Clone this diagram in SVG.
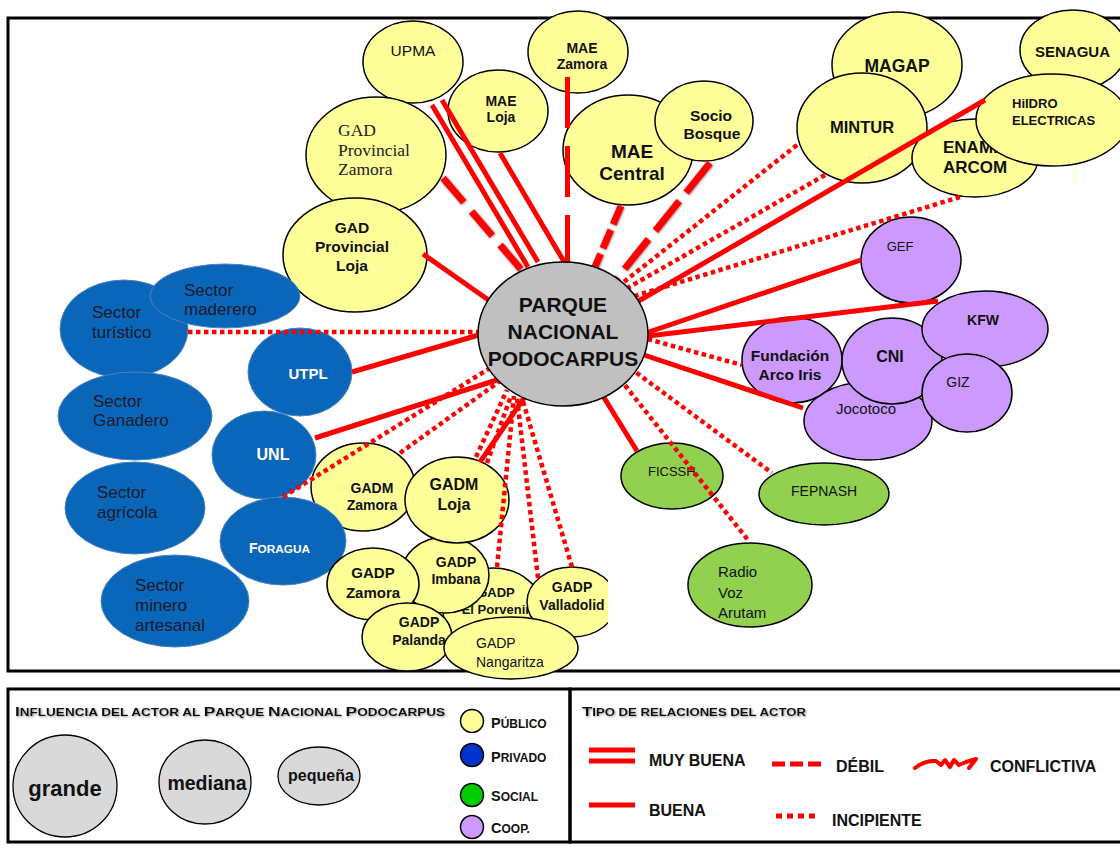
<svg xmlns="http://www.w3.org/2000/svg" width="1120" height="849" viewBox="0 0 1120 849">
<defs>
<filter id="sh" filterUnits="userSpaceOnUse" x="0" y="0" width="1120" height="849"><feDropShadow dx="0.5" dy="0.5" stdDeviation="1.2" flood-color="#555" flood-opacity="0.8"/></filter>
<filter id="tsh" filterUnits="userSpaceOnUse" x="0" y="0" width="1120" height="849"><feDropShadow dx="1" dy="1" stdDeviation="0.8" flood-color="#777" flood-opacity="0.8"/></filter>
</defs>
<style>
.pub{fill:#ffff99;stroke:#000;stroke-width:1.5}
.priv{fill:#0a66b8;stroke:#4a83c6;stroke-width:1}
.soc{fill:#92d050;stroke:#000;stroke-width:1.5}
.coop{fill:#cc99ff;stroke:#000;stroke-width:1.5}
.park{fill:#c0c0c0;stroke:#000;stroke-width:1.5}
.size{fill:#d9d9d9;stroke:#000;stroke-width:1.3}
text{font-family:"Liberation Sans",Arial,sans-serif;fill:#111}
.b{font-weight:bold}
.m{text-anchor:middle}
.w{fill:#fff}
.dk{fill:#1a1a2a}
.serif{font-family:"Liberation Serif","Times New Roman",serif;fill:#222}
.frame{fill:none;stroke:#000;stroke-width:3}
.solid{stroke:#ff0000;stroke-width:5;fill:none}
.dot{stroke:#ff0000;stroke-width:4.5;stroke-dasharray:4.5 3.5;fill:none}
.weak{stroke:#ff0000;stroke-width:7;fill:none;filter:url(#sh)}
.sc{font-weight:bold;font-size:10.5px}
.sc1{font-size:13.5px}
.lg{font-weight:bold;font-size:16px}
</style>
<rect x="0" y="0" width="1120" height="849" fill="#fff"/>
<path class="frame" d="M1122,18 H8 V671 H1122"/>

<g id="nodes">
<g id="n-upma"><ellipse class="pub" cx="413" cy="62" rx="50" ry="41"/><text class="m" x="413" y="56" font-size="15.5">UPMA</text></g>
<g id="n-mae-zamora"><ellipse class="pub" cx="578" cy="52" rx="50" ry="41"/><text class="b m" x="582" y="53" font-size="14">MAE</text><text class="b m" x="582" y="69" font-size="14">Zamora</text></g>
<g id="n-mae-loja"><ellipse class="pub" cx="498" cy="111" rx="50" ry="41"/><text class="b m" x="501" y="106" font-size="14">MAE</text><text class="b m" x="501" y="122" font-size="14">Loja</text></g>
<g id="n-gad-prov-zamora"><ellipse class="pub" cx="376" cy="155" rx="70" ry="58"/><text class="serif" x="338" y="136" font-size="17.5">GAD</text><text class="serif" x="338" y="156" font-size="17.5">Provincial</text><text class="serif" x="338" y="175" font-size="17.5">Zamora</text></g>
<g id="n-gad-prov-loja"><ellipse class="pub" cx="355" cy="255" rx="72" ry="57"/><text class="b m" x="352" y="233" font-size="15.5">GAD</text><text class="b m" x="352" y="252" font-size="15.5">Provincial</text><text class="b m" x="352" y="271" font-size="15.5">Loja</text></g>
<g id="n-mae-central"><ellipse class="pub" cx="628" cy="150" rx="65" ry="55"/><text class="b m" x="632" y="158" font-size="19">MAE</text><text class="b m" x="632" y="180" font-size="19">Central</text></g>
<g id="n-socio-bosque"><ellipse class="pub" cx="704" cy="121" rx="49" ry="40"/><text class="b m" x="711" y="121" font-size="15.5">Socio</text><text class="b m" x="712" y="139" font-size="15.5">Bosque</text></g>
<g id="n-magap"><ellipse class="pub" cx="897" cy="65" rx="65" ry="53"/><text class="b m" x="897" y="72" font-size="17.5">MAGAP</text></g>
<g id="n-mintur"><ellipse class="pub" cx="862" cy="128" rx="65" ry="55"/><text class="b m" x="862" y="133" font-size="16.5">MINTUR</text></g>
<g id="n-senagua"><ellipse class="pub" cx="1073" cy="50" rx="53" ry="40"/><text class="b" x="1035" y="57" font-size="15">SENAGUA</text></g>
<g id="n-enami-arcom"><ellipse class="pub" cx="975" cy="158" rx="63" ry="39"/><text class="b" x="943" y="153" font-size="17">ENAMI</text><text class="b" x="943" y="173" font-size="17">ARCOM</text></g>
<g id="n-hidroelectricas"><ellipse class="pub" cx="1052" cy="120" rx="76" ry="46"/><text class="b" x="1012" y="108" font-size="13">HiIDRO</text><text class="b" x="1012" y="125" font-size="13">ELECTRICAS</text><line x1="1074.5" y1="167" x2="1074.5" y2="185" stroke="#ffff99" stroke-width="1.5"/></g>

<g id="n-gef"><ellipse class="coop" cx="911" cy="260" rx="50" ry="43"/><text class="m" x="900" y="251" font-size="13" fill="#333">GEF</text></g>
<g id="n-jocotoco"><ellipse class="coop" cx="868" cy="421" rx="64" ry="39"/><text class="m" x="866" y="414" font-size="15">Jocotoco</text></g>
<g id="n-fundacion"><ellipse class="coop" cx="792" cy="360" rx="50" ry="43"/><text class="b m" x="790" y="361" font-size="15.5">Fundación</text><text class="b m" x="790" y="380" font-size="15.5">Arco Iris</text></g>
<g id="n-cni"><ellipse class="coop" cx="892" cy="361" rx="50" ry="43"/><text class="b m" x="890" y="362" font-size="16">CNI</text></g>
<g id="n-kfw"><ellipse class="coop" cx="985" cy="329" rx="63" ry="38"/><text class="b m" x="983" y="325" font-size="14">KFW</text></g>
<g id="n-giz"><ellipse class="coop" cx="967" cy="393" rx="45" ry="39"/><text class="m" x="958" y="387" font-size="14">GIZ</text></g>

<g id="n-ficssh"><ellipse class="soc" cx="672" cy="476" rx="51" ry="33"/><text x="648" y="476" font-size="13">FICSSH</text></g>
<g id="n-fepnash"><ellipse class="soc" cx="824" cy="494" rx="65" ry="31"/><text x="791" y="496" font-size="14">FEPNASH</text></g>
<g id="n-radio"><ellipse class="soc" cx="750" cy="585" rx="62" ry="42"/><text x="718" y="577" font-size="15">Radio</text><text x="718" y="598" font-size="15">Voz</text><text x="718" y="618" font-size="15">Arutam</text></g>

<g id="n-sector-turistico"><ellipse class="priv" cx="124" cy="329" rx="64" ry="49"/><text class="dk" x="92" y="318" font-size="17">Sector</text><text class="dk" x="92" y="338" font-size="17">turístico</text></g>
<g id="n-sector-maderero"><ellipse class="priv" cx="225" cy="296" rx="75" ry="32"/><text class="dk" x="184" y="296" font-size="17">Sector</text><text class="dk" x="184" y="315" font-size="17">maderero</text></g>
<g id="n-sector-ganadero"><ellipse class="priv" cx="135" cy="416" rx="77" ry="44"/><text class="dk" x="93" y="407" font-size="17">Sector</text><text class="dk" x="93" y="426" font-size="17">Ganadero</text></g>
<g id="n-sector-agricola"><ellipse class="priv" cx="135" cy="508" rx="70" ry="46"/><text class="dk" x="97" y="498" font-size="17">Sector</text><text class="dk" x="97" y="518" font-size="17">agrícola</text></g>
<g id="n-sector-minero"><ellipse class="priv" cx="175" cy="601" rx="74" ry="46"/><text class="dk" x="135" y="591" font-size="17">Sector</text><text class="dk" x="135" y="611" font-size="17">minero</text><text class="dk" x="135" y="631" font-size="17">artesanal</text></g>
<g id="n-utpl"><ellipse class="priv" cx="300" cy="372" rx="52" ry="44"/><text class="b m w" x="308" y="379" font-size="15">UTPL</text></g>
<g id="n-unl"><ellipse class="priv" cx="264" cy="455" rx="52" ry="44"/><text class="b m w" x="273" y="460" font-size="16">UNL</text></g>

<g id="n-gadm-zamora"><ellipse class="pub" cx="363" cy="487" rx="52" ry="44"/><text class="b m" x="372" y="493" font-size="14">GADM</text><text class="b m" x="372" y="510" font-size="14">Zamora</text></g>
<g id="n-foragua"><ellipse class="priv" cx="283" cy="541" rx="63" ry="44"/><text class="b w" x="249" y="553" font-size="11.8"><tspan font-size="14">F</tspan>ORAGUA</text></g>
<g id="n-gadp-elporvenir"><ellipse class="pub" cx="493" cy="610" rx="50" ry="42"/><text class="b m" x="496" y="597" font-size="13">GADP</text><text class="b m" x="496" y="614" font-size="13">El Porvenir</text></g>
<g id="n-gadp-imbana"><ellipse class="pub" cx="445" cy="575" rx="44" ry="38"/><text class="b m" x="456" y="567" font-size="14">GADP</text><text class="b m" x="456" y="584" font-size="14">Imbana</text></g>
<g id="n-gadm-loja"><ellipse class="pub" cx="457" cy="500" rx="52" ry="43"/><text class="b m" x="454" y="490" font-size="16">GADM</text><text class="b m" x="454" y="510" font-size="16">Loja</text></g>
<g id="n-gadp-zamora"><ellipse class="pub" cx="373" cy="584" rx="46" ry="36"/><text class="b m" x="373" y="578" font-size="15">GADP</text><text class="b m" x="373" y="598" font-size="15">Zamora</text></g>
<g id="n-gadp-palanda"><ellipse class="pub" cx="407" cy="637" rx="45" ry="34"/><text class="b m" x="419" y="627" font-size="14">GADP</text><text class="b m" x="419" y="645" font-size="14">Palanda</text></g>
<g id="n-gadp-valladolid"><ellipse class="pub" cx="572" cy="602" rx="45" ry="35"/><rect x="608" y="577" width="14" height="56" fill="#fff"/><text class="b m" x="572" y="592" font-size="14">GADP</text><text class="b m" x="572" y="610" font-size="14">Valladolid</text></g>
<g id="n-gadp-nangaritza"><ellipse class="pub" cx="511" cy="648" rx="67" ry="31"/><text x="476" y="648" font-size="14">GADP</text><text x="476" y="667" font-size="14">Nangaritza</text></g>
</g>

<g id="connectors">
<line class="weak" x1="443" y1="178" x2="524" y2="273" stroke-dasharray="32 12"/>
<line class="solid" stroke-width="4" x1="432" y1="105" x2="528" y2="267"/>
<line class="solid" stroke-width="4" x1="442" y1="100" x2="538" y2="262"/>
<line class="solid" x1="500" y1="153" x2="566" y2="265"/>
<line class="solid" stroke-width="4" x1="567.5" y1="77" x2="567.5" y2="268" stroke-dasharray="51 18"/>
<line class="solid" stroke-width="4" x1="423" y1="254" x2="497" y2="306"/>
<line class="weak" x1="621" y1="206" x2="592" y2="274" stroke-dasharray="20 6"/>
<line class="weak" stroke-width="6" x1="710" y1="163" x2="610" y2="287" stroke-dasharray="38 11"/>
<line class="dot" x1="797" y1="145" x2="620" y2="285"/>
<line class="dot" x1="825" y1="175" x2="624" y2="290"/>
<line class="dot" x1="960" y1="197" x2="628" y2="298"/>
<line class="solid" x1="985" y1="100" x2="630" y2="306"/>
<line class="solid" x1="861" y1="260" x2="640" y2="335"/>
<line class="solid" stroke-width="6" x1="938" y1="301" x2="640" y2="337"/>
<line class="dot" x1="640" y1="337" x2="742" y2="365"/>
<line class="solid" stroke-width="6" x1="638" y1="353" x2="803" y2="408"/>
<line class="dot" x1="630" y1="368" x2="772" y2="473"/>
<line class="dot" x1="620" y1="379" x2="748" y2="540"/>
<line class="solid" x1="603" y1="396" x2="637" y2="451"/>
<line class="dot" x1="188" y1="332" x2="482" y2="332"/>
<line class="solid" x1="352" y1="372" x2="482" y2="334"/>
<line class="solid" stroke-width="4.5" x1="315" y1="438" x2="500" y2="379"/>
<line class="dot" x1="283" y1="497" x2="490" y2="368"/>
<line class="dot" x1="400" y1="453" x2="500" y2="381"/>
<line class="dot" x1="476" y1="457" x2="507" y2="390"/>
<line class="dot" x1="487" y1="463" x2="511" y2="396"/>
<line class="solid" stroke-width="6" x1="480" y1="462" x2="524" y2="398"/>
<line class="dot" x1="497" y1="567" x2="514" y2="396"/>
<line class="dot" x1="538" y1="578" x2="517" y2="398"/>
<line class="dot" x1="572" y1="567" x2="522" y2="398"/>
</g>

<g id="n-parque"><ellipse class="park" cx="563" cy="334" rx="85" ry="72"/><text class="b m" x="563" y="312" font-size="21">PARQUE</text><text class="b m" x="563" y="339" font-size="21">NACIONAL</text><text class="b m" x="563" y="366" font-size="21">PODOCARPUS</text></g>

<g id="legend">
<rect class="frame" x="8" y="689" width="562" height="153"/>
<path class="frame" d="M1122,689 H570 V842 H1122"/>
<text class="sc" x="15" y="716" textLength="430" lengthAdjust="spacingAndGlyphs" filter="url(#tsh)"><tspan class="sc1">I</tspan>NFLUENCIA DEL ACTOR AL <tspan class="sc1">P</tspan>ARQUE <tspan class="sc1">N</tspan>ACIONAL <tspan class="sc1">P</tspan>ODOCARPUS</text>
<g id="lg-grande"><ellipse class="size" cx="65" cy="786" rx="52" ry="51"/><text class="b m" x="65" y="796" font-size="22">grande</text></g>
<g id="lg-mediana"><ellipse class="size" cx="205" cy="782" rx="46" ry="42"/><text class="b m" x="207" y="790" font-size="19.5">mediana</text></g>
<g id="lg-pequena"><ellipse class="size" cx="319" cy="776" rx="41" ry="29"/><text class="b m" x="321" y="781" font-size="16">pequeña</text></g>
<g id="lg-publico"><circle cx="472" cy="721" r="11.5" fill="#ffff99" stroke="#000" stroke-width="1.5"/><text class="b" x="491" y="728" font-size="12"><tspan font-size="14.5">P</tspan>ÚBLICO</text></g>
<g id="lg-privado"><circle cx="472" cy="755" r="11.5" fill="#0033cc" stroke="#000" stroke-width="1.5"/><text class="b" x="491" y="762" font-size="12"><tspan font-size="14.5">P</tspan>RIVADO</text></g>
<g id="lg-social"><circle cx="472" cy="795" r="11.5" fill="#00cc00" stroke="#000" stroke-width="1.5"/><text class="b" x="491" y="801" font-size="12"><tspan font-size="14.5">S</tspan>OCIAL</text></g>
<g id="lg-coop"><circle cx="472" cy="827" r="11.5" fill="#cc99ff" stroke="#000" stroke-width="1.5"/><text class="b" x="491" y="833" font-size="12"><tspan font-size="14.5">C</tspan>OOP.</text></g>

<text class="sc" x="582" y="716" textLength="224" lengthAdjust="spacingAndGlyphs" filter="url(#tsh)"><tspan class="sc1">T</tspan>IPO DE RELACIONES DEL ACTOR</text>
<g id="lg-muybuena"><line class="solid" stroke-width="4.5" x1="589" y1="750" x2="635" y2="750"/><line class="solid" stroke-width="4.5" x1="589" y1="761" x2="635" y2="761"/><text class="lg" x="649" y="766">MUY BUENA</text></g>
<g id="lg-buena"><line class="solid" x1="589" y1="805" x2="635" y2="805"/><text class="lg" x="649" y="816">BUENA</text></g>
<g id="lg-debil"><line class="solid" x1="772" y1="764" x2="823" y2="764" stroke-dasharray="13 5"/><text class="lg" x="836" y="772">DÉBIL</text></g>
<g id="lg-incipiente"><line class="solid" x1="776" y1="816" x2="819" y2="816" stroke-dasharray="6 5"/><text class="lg" x="832" y="826">INCIPIENTE</text></g>
<g id="lg-conflictiva"><path d="M915,768 Q925,760 936,761 L941,765 L945,760 L950,767 L954,760 L959,765 L966,762 L976,759 M969,768 L976,759" fill="none" stroke="#ff0000" stroke-width="4" stroke-linecap="round" stroke-linejoin="round"/><text class="lg" x="990" y="772">CONFLICTIVA</text></g>
</g>
</svg>
